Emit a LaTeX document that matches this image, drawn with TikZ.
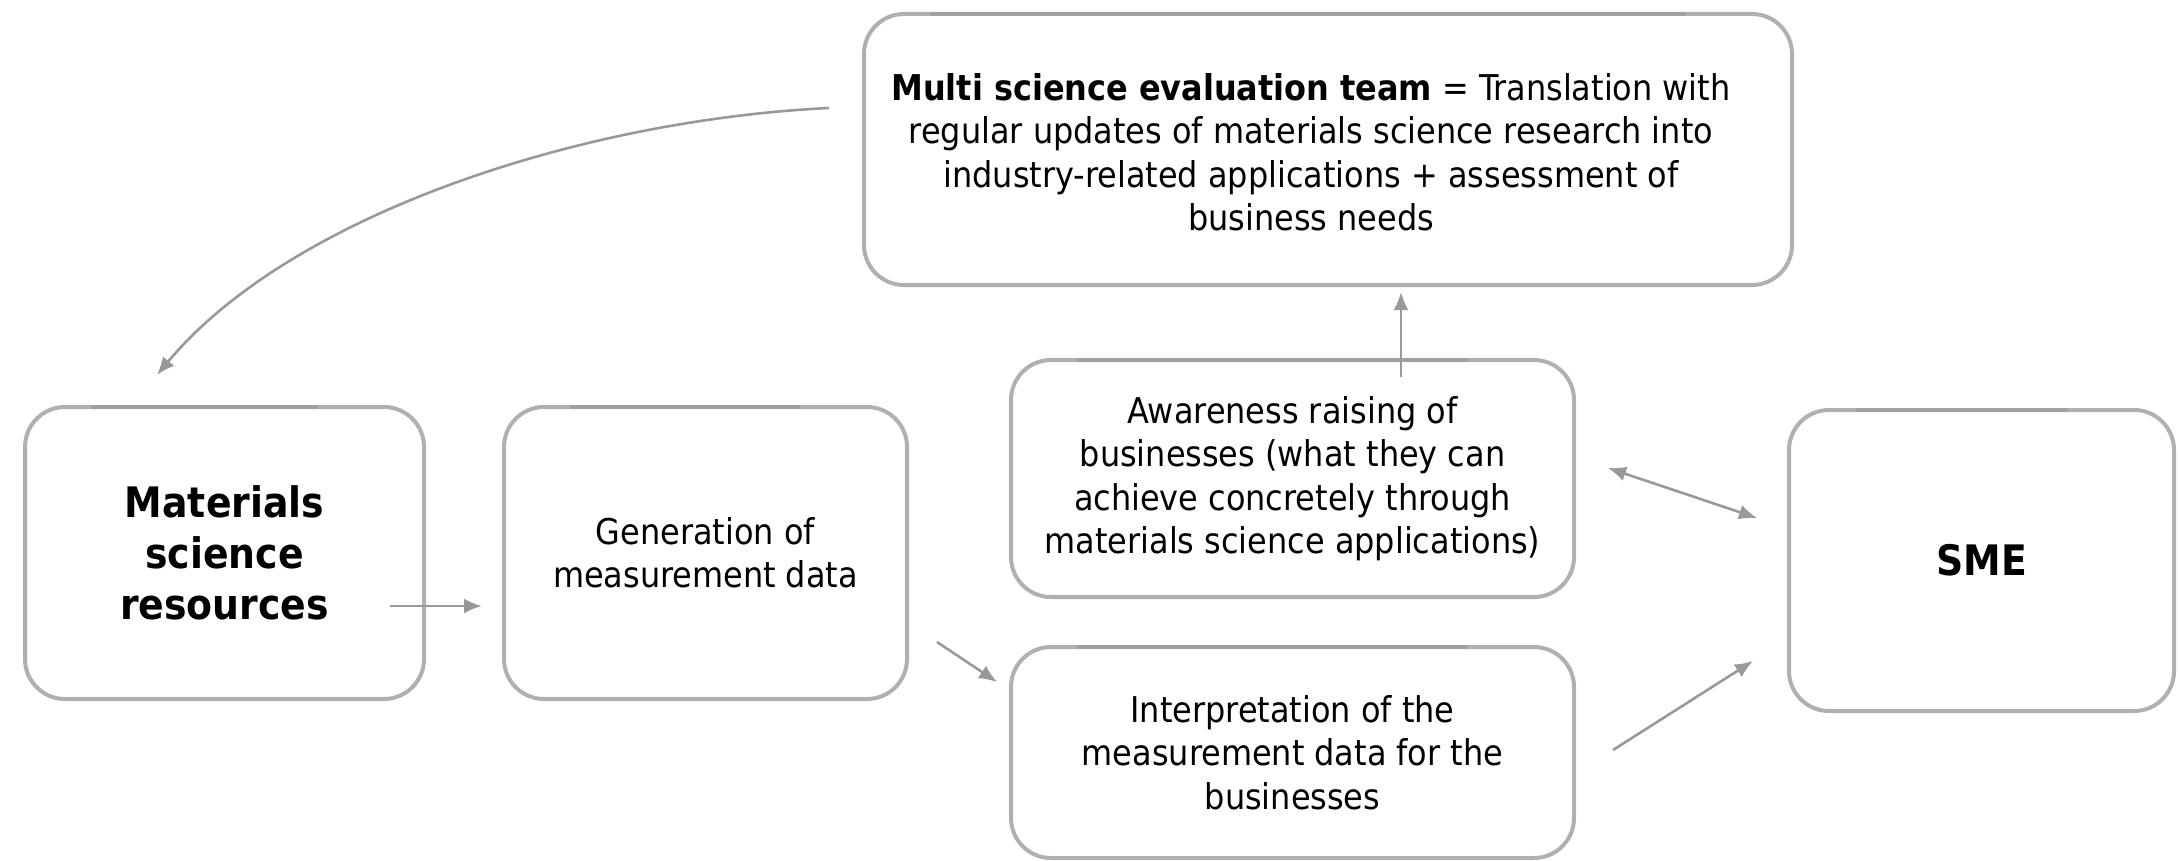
\documentclass[tikz,border=0pt]{standalone}
\usepackage{fontspec}
\setmainfont{DejaVu Sans Condensed}
\usetikzlibrary{arrows.meta,calc}
\definecolor{boxgray}{HTML}{B0B0B0}
\definecolor{shadegray}{HTML}{A0A0A0}
\definecolor{arrgray}{HTML}{999999}
\tikzset{
  box/.style={draw=boxgray, line width=4pt, rounded corners=40pt, fill=white, align=center, inner sep=0pt},
  topshade/.style={draw=shadegray, line width=4pt, line cap=round},
  conn/.style={draw=arrgray, line width=2.6pt, -{Latex[length=18pt,width=15pt]}},
  conn2/.style={draw=arrgray, line width=2.6pt, {Latex[length=18pt,width=15pt]}-{Latex[length=18pt,width=15pt]}},
  bodytext/.style={font=\fontsize{35.5}{43.5}\selectfont},
  bigtext/.style={font=\fontsize{42}{51}\selectfont\bfseries}
}
\begin{document}
\begin{tikzpicture}[x=1pt,y=-1pt]
\useasboundingbox (0,0) rectangle (2178,861);
\node[box, bigtext, minimum width=399pt, minimum height=292pt] (b1) at (224.5,553) {Materials\\science\\resources};
\node[box, bodytext, minimum width=403pt, minimum height=292pt] (b2) at (705.5,553) {Generation of\\measurement data};
\node[box, minimum width=928pt, minimum height=271pt] (top) at (1328,149.5) {};
\node[bodytext, align=center, inner sep=0pt] (toptxt) at ($(top.center)+(-17,3)$) {\textbf{Multi science evaluation team} = Translation with\\regular updates of materials science research into\\industry-related applications + assessment of\\business needs};
\node[box, bodytext, minimum width=563pt, minimum height=237pt] (aw) at (1292.5,478.5) {Awareness raising of\\businesses (what they can\\achieve concretely through\\materials science applications)};
\node[box, bodytext, minimum width=563pt, minimum height=211pt] (ip) at (1292.5,752.5) {Interpretation of the\\measurement data for the\\businesses};
\node[box, bigtext, minimum width=385pt, minimum height=301pt] (sme) at (1981.5,560.5) {SME};

\foreach \n in {b1,b2,top,aw,ip,sme}{
  \draw[topshade] ($(\n.north west)+(70,2)$) -- ($(\n.north east)+(-110,2)$);
}

\coordinate (a1s) at ($(b1.east)+(-36,53)$);
\coordinate (a1e) at ($(b2.west)+(-20,53)$);
\coordinate (a2s) at ($(b2.east)+(28,89)$);
\coordinate (a2e) at ($(ip.west)+(-12,-70.5)$);
\coordinate (a3s) at ($(ip.east)+(37,-2.5)$);
\coordinate (a3e) at ($(sme.west)+(-34,100.5)$);
\coordinate (a4s) at ($(aw.east)+(32,-10.5)$);
\coordinate (a4e) at ($(sme.west)+(-30,-42.5)$);
\coordinate (a5s) at ($(aw.north)+(108.5,19)$);
\coordinate (a5e) at ($(top.south)+(73,5)$);
\coordinate (a6s) at ($(top.west)+(-33,-41.5)$);
\coordinate (a6e) at ($(b1.north)+(-67.5,-30)$);

\draw[conn] (a1s) -- (a1e);
\draw[conn] (a2s) -- (a2e);
\draw[conn] (a3s) -- (a3e);
\draw[conn2] (a4s) -- (a4e);
\draw[conn] (a5s) -- (a5e);
\draw[conn] (a6s) .. controls (580,120) and (290,215) .. (a6e);
\end{tikzpicture}
\end{document}
